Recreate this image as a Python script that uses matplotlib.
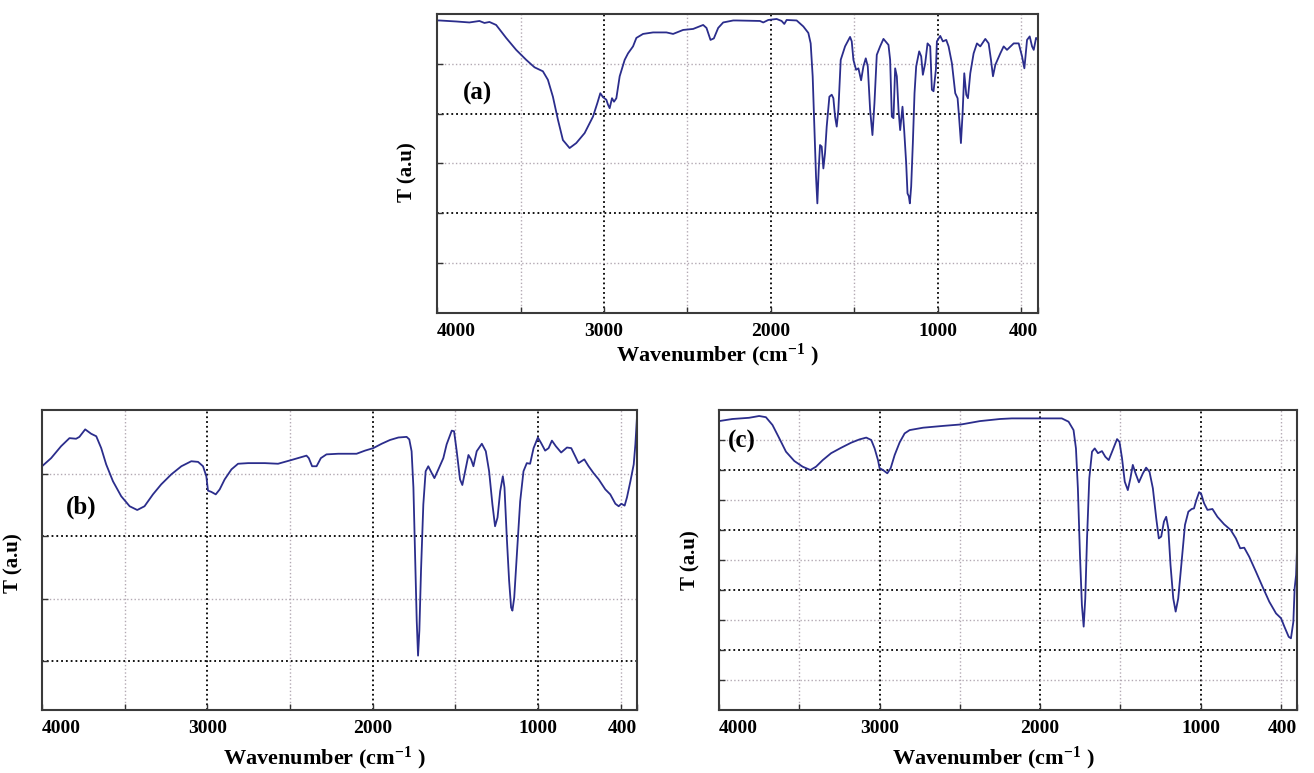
import matplotlib
matplotlib.use("Agg")
import matplotlib.pyplot as plt
from matplotlib.ticker import FixedLocator

# fonts: bold serif like the original figure
plt.rcParams['font.family'] = ['Liberation Serif', 'DejaVu Serif']
plt.rcParams['font.weight'] = 'bold'
plt.rcParams['mathtext.fontset'] = 'custom'
plt.rcParams['mathtext.rm'] = 'Liberation Serif:bold'
plt.rcParams['mathtext.it'] = 'Liberation Serif:bold'
plt.rcParams['mathtext.bf'] = 'Liberation Serif:bold'

# ---- spectrum (a) ----
wn_a = [4000, 3986, 3886, 3806, 3746, 3716, 3686, 3646, 3586, 3526, 3466, 3416, 3366,
        3336, 3306, 3276, 3246, 3206, 3166, 3116, 3066, 3040, 3022, 3006, 2986, 2976,
        2966, 2952, 2940, 2926, 2906, 2876, 2856, 2826, 2806, 2766, 2706, 2626, 2586,
        2526, 2466, 2406, 2386, 2362, 2342, 2316, 2286, 2226, 2206, 2066, 2046, 2016,
        1966, 1936, 1920, 1906, 1846, 1806, 1776, 1762, 1750, 1740, 1730, 1722, 1714,
        1706, 1696, 1686, 1676, 1666, 1650, 1636, 1626, 1616, 1606, 1596, 1582, 1556,
        1526, 1516, 1506, 1490, 1476, 1460, 1446, 1432, 1420, 1406, 1392, 1380, 1366,
        1346, 1326, 1296, 1286, 1276, 1266, 1256, 1246, 1236, 1226, 1212, 1202, 1190,
        1182, 1174, 1168, 1160, 1150, 1140, 1130, 1112, 1100, 1090, 1076, 1062, 1046,
        1036, 1026, 1012, 1006, 986, 970, 950, 936, 916, 896, 882, 872, 862, 852, 842,
        830, 820, 806, 786, 766, 746, 716, 696, 682, 670, 656, 626, 606, 586, 546, 516,
        496, 482, 466, 450, 436, 426, 412, 400]
t_a = [5.87, 5.87, 5.85, 5.83, 5.86, 5.82, 5.84, 5.78, 5.52, 5.28, 5.08, 4.93, 4.85,
       4.68, 4.34, 3.88, 3.47, 3.31, 3.41, 3.61, 3.94, 4.21, 4.41, 4.33, 4.28, 4.18,
       4.11, 4.31, 4.24, 4.31, 4.75, 5.08, 5.21, 5.35, 5.52, 5.60, 5.63, 5.63, 5.60,
       5.68, 5.70, 5.78, 5.72, 5.48, 5.51, 5.72, 5.83, 5.87, 5.87, 5.86, 5.83, 5.88,
       5.90, 5.86, 5.80, 5.88, 5.87, 5.75, 5.62, 5.41, 4.75, 3.74, 2.74, 2.20, 2.87,
       3.37, 3.34, 2.90, 3.21, 3.74, 4.34, 4.38, 4.31, 3.94, 3.74, 4.08, 5.08, 5.35,
       5.54, 5.45, 5.08, 4.88, 4.91, 4.67, 4.95, 5.11, 4.95, 4.08, 3.57, 4.21, 5.18,
       5.35, 5.50, 5.38, 5.08, 3.94, 3.91, 4.91, 4.75, 4.08, 3.67, 4.14, 3.67, 3.01,
       2.40, 2.34, 2.20, 2.54, 3.41, 4.41, 4.95, 5.25, 5.15, 4.78, 5.01, 5.41, 5.35,
       4.48, 4.45, 4.88, 5.45, 5.56, 5.45, 5.48, 5.35, 5.01, 4.41, 4.31, 3.88, 3.41,
       4.01, 4.81, 4.38, 4.31, 4.81, 5.21, 5.41, 5.35, 5.50, 5.41, 5.08, 4.75, 4.98,
       5.21, 5.35, 5.28, 5.41, 5.41, 5.15, 4.91, 5.48, 5.55, 5.35, 5.28, 5.52, 5.48]

# ---- spectrum (b) ----
wn_b = [4000, 3945, 3885, 3834, 3794, 3774, 3739, 3703, 3672, 3642, 3612, 3571, 3521,
        3470, 3424, 3380, 3329, 3279, 3218, 3157, 3097, 3056, 3026, 3006, 2996, 2976,
        2949, 2925, 2895, 2854, 2814, 2753, 2652, 2572, 2491, 2400, 2386, 2366, 2339,
        2313, 2279, 2208, 2097, 2046, 1996, 1945, 1895, 1844, 1794, 1778, 1764, 1753,
        1743, 1733, 1725, 1717, 1707, 1693, 1679, 1663, 1642, 1626, 1602, 1572, 1552,
        1521, 1507, 1491, 1471, 1457, 1440, 1420, 1404, 1390, 1370, 1339, 1315, 1295,
        1275, 1259, 1244, 1228, 1212, 1202, 1188, 1174, 1162, 1154, 1143, 1127, 1107,
        1087, 1067, 1047, 1026, 1000, 980, 956, 935, 915, 891, 859, 824, 798, 774, 754,
        719, 693, 663, 632, 592, 562, 531, 511, 495, 475, 461, 440, 420, 410, 400]
t_b = [3.12, 3.25, 3.44, 3.57, 3.56, 3.59, 3.71, 3.64, 3.60, 3.41, 3.15, 2.88, 2.64,
       2.48, 2.42, 2.48, 2.67, 2.83, 2.99, 3.12, 3.20, 3.19, 3.12, 2.96, 2.73, 2.71,
       2.67, 2.75, 2.91, 3.07, 3.16, 3.17, 3.17, 3.16, 3.22, 3.29, 3.25, 3.12, 3.12,
       3.25, 3.31, 3.32, 3.32, 3.37, 3.41, 3.48, 3.54, 3.58, 3.59, 3.55, 3.36, 2.78,
       1.71, 0.65, 0.09, 0.49, 1.45, 2.51, 3.04, 3.12, 3.01, 2.93, 3.07, 3.25, 3.47,
       3.69, 3.68, 3.36, 2.91, 2.82, 3.04, 3.30, 3.23, 3.12, 3.36, 3.48, 3.36, 3.04,
       2.51, 2.16, 2.30, 2.72, 2.96, 2.78, 1.98, 1.29, 0.86, 0.81, 1.02, 1.71, 2.56,
       3.04, 3.17, 3.16, 3.41, 3.58, 3.49, 3.37, 3.41, 3.53, 3.44, 3.34, 3.42, 3.41,
       3.28, 3.17, 3.23, 3.12, 3.01, 2.91, 2.75, 2.67, 2.52, 2.48, 2.52, 2.49, 2.62,
       2.88, 3.15, 3.47, 3.92]

# ---- spectrum (c) ----
wn_c = [4000, 3917, 3813, 3750, 3708, 3667, 3625, 3583, 3531, 3479, 3431, 3396, 3354,
        3302, 3240, 3177, 3125, 3083, 3052, 3031, 3010, 3000, 2979, 2952, 2931, 2906,
        2875, 2844, 2813, 2729, 2604, 2490, 2375, 2250, 2177, 2115, 2000, 1865, 1823,
        1792, 1777, 1765, 1752, 1740, 1729, 1719, 1708, 1694, 1677, 1660, 1640, 1615,
        1594, 1573, 1552, 1521, 1506, 1490, 1473, 1454, 1438, 1423, 1406, 1385, 1360,
        1340, 1319, 1298, 1277, 1261, 1246, 1229, 1215, 1202, 1188, 1171, 1156, 1140,
        1119, 1098, 1077, 1056, 1042, 1027, 1010, 998, 979, 958, 927, 896, 854, 813,
        781, 754, 729, 698, 656, 615, 573, 531, 500, 479, 452, 438, 423, 415, 406, 400]
t_c = [9.63, 9.70, 9.74, 9.80, 9.76, 9.50, 9.06, 8.61, 8.30, 8.11, 8.00, 8.11, 8.33,
       8.56, 8.74, 8.91, 9.02, 9.08, 9.00, 8.72, 8.33, 8.06, 8.00, 7.89, 8.06, 8.50,
       8.92, 9.22, 9.33, 9.41, 9.47, 9.52, 9.63, 9.70, 9.72, 9.72, 9.72, 9.72, 9.61,
       9.33, 8.72, 7.39, 5.17, 3.50, 2.78, 3.72, 5.72, 7.72, 8.61, 8.72, 8.56, 8.63,
       8.44, 8.33, 8.61, 9.03, 8.94, 8.39, 7.61, 7.33, 7.72, 8.17, 7.89, 7.59, 7.89,
       8.08, 7.94, 7.39, 6.39, 5.72, 5.78, 6.28, 6.44, 6.06, 4.83, 3.72, 3.28, 3.72,
       4.94, 6.17, 6.61, 6.70, 6.72, 7.00, 7.26, 7.22, 6.89, 6.67, 6.70, 6.44, 6.19,
       6.00, 5.72, 5.39, 5.41, 5.11, 4.61, 4.11, 3.61, 3.22, 3.06, 2.78, 2.44, 2.39,
       2.94, 4.06, 4.50, 5.39]

# x ticks
x_major = [4000, 3000, 2000, 1000, 400]
x_labels = ['4000', '3000', '2000', '1000', '400']
x_minor = [3500, 2500, 1500, 500]

line_color = '#2b2d8c'


def style_axes(ax, ylim, y_major, y_minor, tag, tag_xy, xlab_xy, ylab_y):
    ax.set_xlim(4000, 400)
    ax.set_ylim(*ylim)
    ax.xaxis.set_major_locator(FixedLocator(x_major))
    ax.xaxis.set_minor_locator(FixedLocator(x_minor))
    ax.set_xticklabels(x_labels)
    ax.yaxis.set_major_locator(FixedLocator(y_major))
    ax.yaxis.set_minor_locator(FixedLocator(y_minor))
    ax.set_yticklabels([])
    ax.tick_params(which='both', direction='in', length=4, width=1.0, color='#333333',
                   top=False, right=False, labelsize=14, pad=7)
    labels = ax.get_xticklabels()
    labels[0].set_horizontalalignment('left')
    labels[-1].set_horizontalalignment('right')
    ax.grid(which='major', color='black', linestyle=':', linewidth=1.3)
    ax.grid(which='minor', color='#b3a9b3', linestyle=':', linewidth=1.0)
    for sp in ax.spines.values():
        sp.set_color('#3a3a3a')
        sp.set_linewidth(1.5)
    ax.set_xlabel('Wavenumber (cm$^{-1}$ )', fontsize=16, fontweight='bold')
    ax.xaxis.set_label_coords(*xlab_xy)
    ax.set_ylabel('T (a.u)', fontsize=15, fontweight='bold')
    ax.yaxis.set_label_coords(-0.032, ylab_y)
    ax.text(tag_xy[0], tag_xy[1], tag, transform=ax.transAxes, fontsize=18,
            fontweight='bold', ha='center', va='center')


fig = plt.figure(figsize=(13.14, 7.73), dpi=100)

ax_a = fig.add_axes([0.3326, 0.5951, 0.4574, 0.3868])
ax_a.plot(wn_a, t_a, color=line_color, linewidth=1.3)
style_axes(ax_a, (0, 6), [2, 4], [1, 3, 5], '(a)', (0.067, 0.735), (0.466, -0.095), 0.47)

ax_b = fig.add_axes([0.0320, 0.0815, 0.4528, 0.3881])
ax_b.plot(wn_b, t_b, color=line_color, linewidth=1.3)
style_axes(ax_b, (-0.78, 4.02), [0, 2], [1, 3], '(b)', (0.066, 0.675), (0.474, -0.115), 0.49)

ax_c = fig.add_axes([0.5472, 0.0815, 0.4399, 0.3881])
ax_c.plot(wn_c, t_c, color=line_color, linewidth=1.3)
style_axes(ax_c, (0, 10), [2, 4, 6, 8], [1, 3, 5, 7, 9], '(c)', (0.040, 0.895), (0.474, -0.115), 0.5)

fig.savefig('out.png', dpi=100)
